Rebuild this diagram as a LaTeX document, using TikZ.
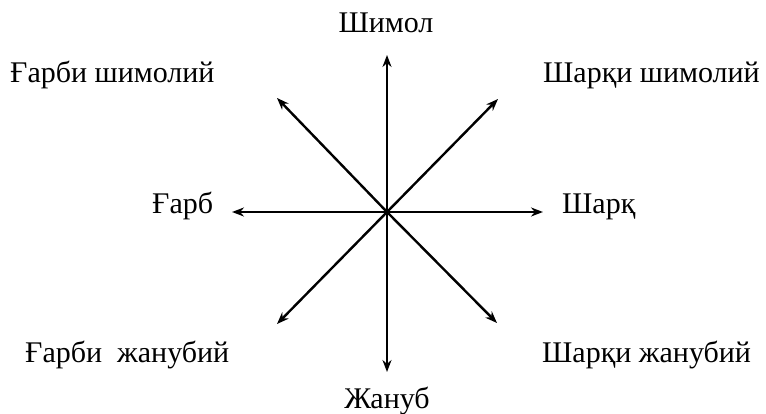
\documentclass[tikz,border=0pt]{standalone}
\usepackage{fontspec}
\setmainfont{Liberation Serif}
\usetikzlibrary{arrows.meta}
\begin{document}
\begin{tikzpicture}[x=1pt,y=1pt,
  dirarrow/.style={line width=2.4pt,-{Stealth[length=12pt,width=9pt]}},
  lbl/.style={inner sep=0pt,font=\fontsize{30}{34}\selectfont}]
\useasboundingbox (0,0) rectangle (766,413);
\coordinate (O) at (387,201);
\coordinate (N) at (387,358);
\coordinate (S) at (387,41);
\coordinate (W) at (232,201);
\coordinate (E) at (543,201);
\coordinate (NW) at (277,315);
\coordinate (NE) at (498,314);
\coordinate (SW) at (277,89);
\coordinate (SE) at (497,90);
\foreach \t in {N,S,W,E,NW,NE,SW,SE} \draw[dirarrow] (O) -- (\t);
\fill (O) circle (3pt);
\node[lbl,anchor=base] (ln) at (386,380) {Шимол};
\node[lbl,anchor=base] (ls) at (387,5) {Жануб};
\node[lbl,anchor=base west] (lnw) at (10,330) {Ғарби шимолий};
\node[lbl,anchor=base west] (lne) at (543,330) {Шарқи шимолий};
\node[lbl,anchor=base west] (lw) at (152,200) {Ғарб};
\node[lbl,anchor=base west] (le) at (562,200) {Шарқ};
\node[lbl,anchor=base west] (lsw) at (25,51) {Ғарби\ \ жанубий};
\node[lbl,anchor=base west] (lse) at (542,51) {Шарқи жанубий};
\end{tikzpicture}
\end{document}
